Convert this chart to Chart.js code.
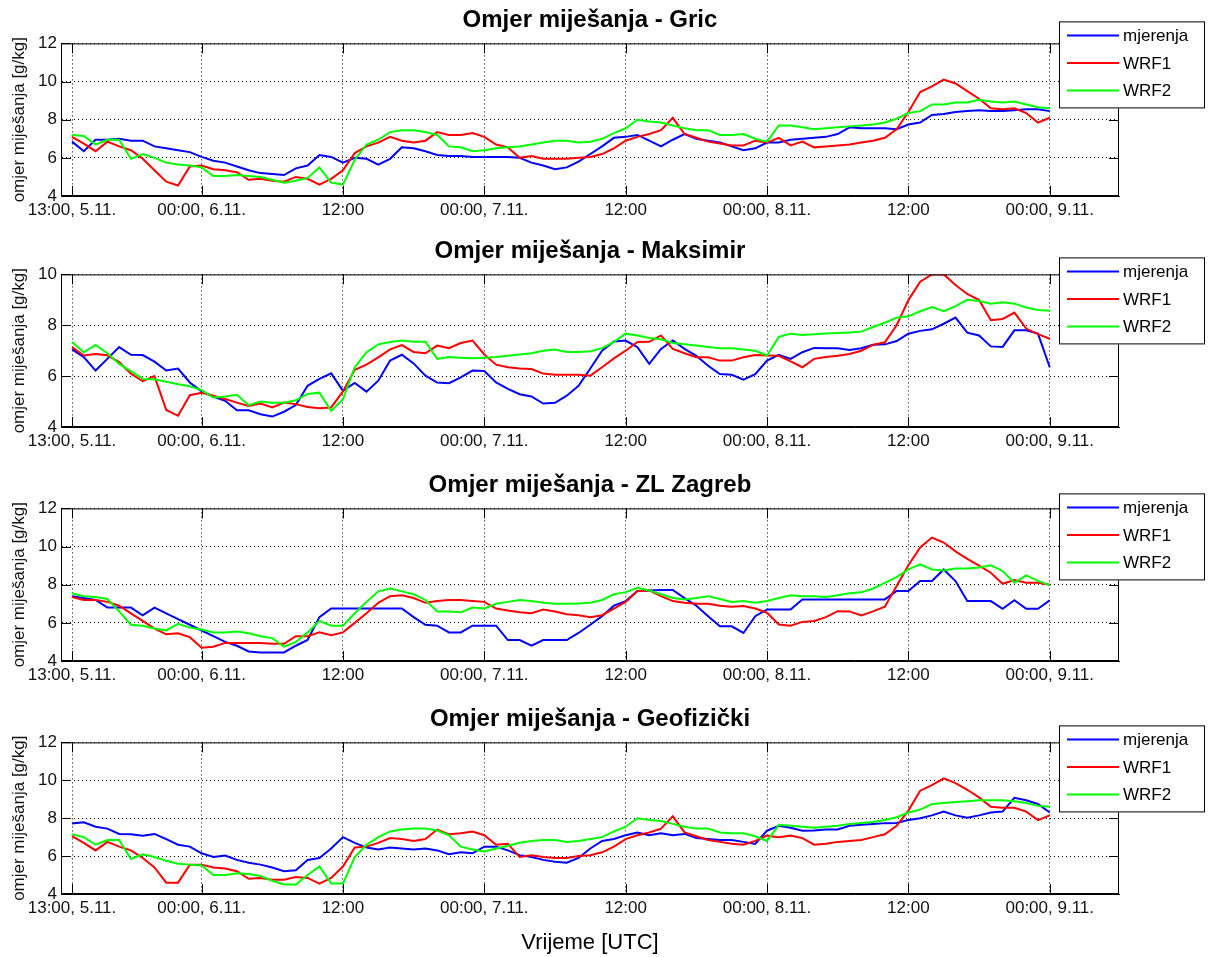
<!DOCTYPE html>
<html>
<head>
<meta charset="utf-8">
<title>Omjer miješanja</title>
<script src="https://cdn.jsdelivr.net/npm/chart.js@4.4.0/dist/chart.umd.min.js"></script>
<style>
  body { margin: 0; background: #fff; }
  #wrap { position: relative; width: 1208px; height: 957px; }
  #wrap canvas { position: absolute; left: 0; }
</style>
</head>
<body>
<div id="wrap">
  <canvas id="c0" width="1208" height="231" style="top:0px"></canvas>
  <canvas id="c1" width="1208" height="231" style="top:231px"></canvas>
  <canvas id="c2" width="1208" height="231" style="top:465px"></canvas>
  <canvas id="c3" width="1208" height="258" style="top:699px"></canvas>
</div>
<script>
// hourly values from 13:00 5.11. to 00:00 9.11.
const hours = Array.from({ length: 84 }, (_, i) => i);
const tickHours = [0, 11, 23, 35, 47, 59, 71, 83];
const tickLabels = ["13:00, 5.11.", "00:00, 6.11.", "12:00", "00:00, 7.11.", "12:00", "00:00, 8.11.", "12:00", "00:00, 9.11."];
const seriesNames = ["mjerenja", "WRF1", "WRF2"];

// Gric
const gricMjer = [
  6.85, 6.35, 6.95, 6.95, 7.0, 6.9, 6.9, 6.6, 6.5, 6.4, 6.3, 6.05,
  5.85, 5.75, 5.55, 5.35, 5.2, 5.15, 5.1, 5.45, 5.6, 6.15, 6.05, 5.75,
  6.0, 5.95, 5.65, 5.95, 6.55, 6.5, 6.35, 6.15, 6.1, 6.1, 6.05, 6.05,
  6.05, 6.05, 6.0, 5.75, 5.6, 5.4, 5.5, 5.8, 6.2, 6.6, 7.05, 7.1,
  7.2, 6.9, 6.6, 6.95, 7.25, 7.0, 6.9, 6.8, 6.6, 6.4, 6.5, 6.8,
  6.8, 6.95, 7.0, 7.05, 7.1, 7.25, 7.6, 7.55, 7.55, 7.55, 7.5, 7.75,
  7.85, 8.25, 8.3, 8.4, 8.45, 8.5, 8.45, 8.45, 8.5, 8.55, 8.55, 8.45
];
const gricWrf1 = [
  7.1, 6.75, 6.35, 6.85, 6.6, 6.4, 5.95, 5.35, 4.75, 4.55, 5.55, 5.6,
  5.4, 5.35, 5.25, 4.85, 4.9, 4.8, 4.75, 5.0, 4.9, 4.6, 4.9, 5.35,
  6.25, 6.6, 6.8, 7.1, 6.9, 6.8, 6.9, 7.35, 7.2, 7.2, 7.3, 7.1,
  6.7, 6.55, 6.0, 6.1, 5.95, 5.95, 5.95, 6.0, 6.05, 6.2, 6.5, 6.9,
  7.1, 7.25, 7.45, 8.1, 7.25, 7.05, 6.85, 6.75, 6.65, 6.65, 6.9, 6.8,
  7.05, 6.65, 6.85, 6.55, 6.6, 6.65, 6.7, 6.8, 6.9, 7.05, 7.5, 8.4,
  9.45, 9.75, 10.1, 9.9, 9.5, 9.1, 8.6, 8.55, 8.6, 8.35, 7.85, 8.1
];
const gricWrf2 = [
  7.2, 7.15, 6.7, 6.95, 6.95, 5.95, 6.2, 6.0, 5.75, 5.65, 5.6, 5.5,
  5.05, 5.05, 5.1, 5.05, 5.0, 4.85, 4.7, 4.8, 4.95, 5.5, 4.7, 4.6,
  5.9, 6.7, 6.95, 7.35, 7.45, 7.45, 7.35, 7.2, 6.6, 6.55, 6.35, 6.4,
  6.5, 6.55, 6.6, 6.7, 6.8, 6.9, 6.9, 6.8, 6.85, 7.0, 7.3, 7.55,
  8.0, 7.9, 7.85, 7.7, 7.55, 7.45, 7.45, 7.2, 7.2, 7.25, 7.0, 6.85,
  7.7, 7.7, 7.6, 7.5, 7.55, 7.6, 7.65, 7.7, 7.75, 7.85, 8.05, 8.35,
  8.45, 8.8, 8.8, 8.9, 8.9, 9.05, 8.95, 8.9, 8.95, 8.8, 8.65, 8.6
];

// Maksimir
const maksMjer = [
  7.05, 6.75, 6.22, 6.68, 7.14, 6.84, 6.83, 6.57, 6.22, 6.3, 5.75, 5.4,
  5.2, 5.03, 4.66, 4.66, 4.5, 4.41, 4.6, 4.86, 5.62, 5.89, 6.11, 5.42,
  5.73, 5.39, 5.82, 6.61, 6.84, 6.5, 6.02, 5.75, 5.72, 5.95, 6.22, 6.2,
  5.75, 5.5, 5.29, 5.2, 4.92, 4.95, 5.23, 5.62, 6.3, 7.0, 7.36, 7.4,
  7.14, 6.48, 7.07, 7.4, 7.07, 6.8, 6.41, 6.08, 6.05, 5.86, 6.08, 6.61,
  6.84, 6.68, 6.94, 7.11, 7.1, 7.1, 7.03, 7.1, 7.23, 7.25, 7.38, 7.67,
  7.78, 7.84, 8.06, 8.3, 7.71, 7.6, 7.17, 7.15, 7.8, 7.8, 7.67, 6.35
];
const maksWrf1 = [
  7.14, 6.81, 6.87, 6.82, 6.55, 6.1, 5.8, 6.0, 4.67, 4.44, 5.25, 5.35,
  5.23, 5.1, 4.96, 4.83, 4.92, 4.77, 4.96, 4.9, 4.79, 4.74, 4.77, 5.4,
  6.25, 6.45, 6.74, 7.05, 7.22, 6.95, 6.9, 7.2, 7.1, 7.3, 7.4, 6.85,
  6.45, 6.35, 6.3, 6.28, 6.1, 6.05, 6.05, 6.05, 6.02, 6.35, 6.7, 7.0,
  7.34, 7.35, 7.6, 7.07, 6.9, 6.74, 6.74, 6.61, 6.61, 6.74, 6.83, 6.81,
  6.8, 6.58, 6.35, 6.68, 6.75, 6.8, 6.87, 7.0, 7.23, 7.33, 8.0, 8.99,
  9.71, 10.0, 10.0, 9.58, 9.23, 8.99, 8.2, 8.25, 8.5, 7.87, 7.65, 7.47
];
const maksWrf2 = [
  7.34, 6.94, 7.23, 6.9, 6.48, 6.2, 5.89, 5.88, 5.78, 5.68, 5.6, 5.45,
  5.16, 5.2, 5.27, 4.86, 5.0, 4.95, 4.95, 5.05, 5.3, 5.35, 4.63, 5.09,
  6.35, 6.94, 7.25, 7.34, 7.4, 7.35, 7.35, 6.68, 6.75, 6.72, 6.7, 6.72,
  6.75, 6.8, 6.85, 6.9, 7.0, 7.05, 6.95, 6.95, 6.98, 7.1, 7.35, 7.67,
  7.6, 7.5, 7.45, 7.3, 7.25, 7.2, 7.15, 7.1, 7.1, 7.05, 7.0, 6.81,
  7.54, 7.67, 7.62, 7.65, 7.68, 7.7, 7.72, 7.75, 7.93, 8.1, 8.3, 8.35,
  8.55, 8.72, 8.55, 8.75, 9.0, 8.95, 8.85, 8.9, 8.85, 8.7, 8.6, 8.57
];

// ZL Zagreb
const zlMjer = [
  7.4, 7.3, 7.2, 6.8, 6.8, 6.8, 6.4, 6.8, 6.5, 6.2, 5.9, 5.6,
  5.3, 5.0, 4.8, 4.5, 4.45, 4.45, 4.45, 4.8, 5.1, 6.3, 6.75, 6.75,
  6.75, 6.75, 6.75, 6.75, 6.75, 6.3, 5.9, 5.85, 5.5, 5.5, 5.85, 5.85,
  5.85, 5.1, 5.1, 4.8, 5.1, 5.1, 5.1, 5.47, 5.9, 6.35, 6.9, 7.14,
  7.67, 7.7, 7.72, 7.72, 7.3, 6.9, 6.35, 5.82, 5.82, 5.47, 6.35, 6.7,
  6.7, 6.7, 7.23, 7.23, 7.23, 7.23, 7.23, 7.23, 7.23, 7.23, 7.67, 7.67,
  8.19, 8.19, 8.8, 8.19, 7.14, 7.14, 7.14, 6.74, 7.19, 6.74, 6.74, 7.18
];
const zlWrf1 = [
  7.35, 7.2, 7.2, 7.1, 6.9, 6.5, 6.1, 5.7, 5.4, 5.45, 5.25, 4.7,
  4.75, 4.95, 4.95, 4.95, 4.95, 4.9, 4.9, 5.3, 5.3, 5.5, 5.35, 5.5,
  6.0, 6.5, 7.05, 7.4, 7.45, 7.3, 7.05, 7.15, 7.2, 7.2, 7.15, 7.1,
  6.75, 6.65, 6.55, 6.5, 6.7, 6.6, 6.45, 6.4, 6.3, 6.4, 6.75, 7.1,
  7.67, 7.7, 7.4, 7.14, 7.05, 7.0, 7.0, 6.9, 6.85, 6.88, 6.75, 6.53,
  5.91, 5.85, 6.05, 6.1, 6.3, 6.61, 6.6, 6.39, 6.6, 6.85, 7.93, 9.02,
  9.95, 10.47, 10.21, 9.75, 9.35, 9.0, 8.63, 8.05, 8.25, 8.1, 8.1, 8.0
];
const zlWrf2 = [
  7.55, 7.4, 7.35, 7.25, 6.6, 5.9, 5.85, 5.7, 5.6, 5.95, 5.75, 5.65,
  5.5, 5.5, 5.55, 5.45, 5.3, 5.2, 4.75, 5.0, 5.5, 6.1, 5.85, 5.85,
  6.5, 7.1, 7.65, 7.8, 7.65, 7.5, 7.2, 6.6, 6.6, 6.55, 6.8, 6.75,
  7.0, 7.1, 7.2, 7.15, 7.05, 7.0, 7.0, 7.02, 7.05, 7.2, 7.5, 7.61,
  7.84, 7.7, 7.5, 7.3, 7.23, 7.3, 7.4, 7.25, 7.09, 7.15, 7.05, 7.15,
  7.3, 7.45, 7.4, 7.4, 7.35, 7.45, 7.55, 7.6, 7.8, 8.1, 8.4, 8.8,
  9.07, 8.8, 8.75, 8.85, 8.85, 8.9, 9.02, 8.72, 8.1, 8.49, 8.2, 7.98
];

// Geofizički
const geoMjer = [
  7.72, 7.78, 7.55, 7.45, 7.17, 7.15, 7.08, 7.17, 6.9, 6.6, 6.5, 6.15,
  5.95, 6.03, 5.8, 5.65, 5.55, 5.4, 5.2, 5.25, 5.8, 5.9, 6.4, 7.0,
  6.7, 6.45, 6.35, 6.45, 6.4, 6.35, 6.4, 6.3, 6.1, 6.2, 6.15, 6.5,
  6.5, 6.3, 6.05, 5.95, 5.8, 5.7, 5.65, 5.9, 6.4, 6.8, 6.9, 7.1,
  7.25, 7.1, 7.2, 7.1, 7.17, 6.95, 6.9, 6.85, 6.85, 6.75, 6.64, 7.34,
  7.6, 7.5, 7.34, 7.35, 7.4, 7.4, 7.6, 7.65, 7.7, 7.74, 7.75, 7.9,
  8.0, 8.15, 8.35, 8.15, 8.03, 8.15, 8.3, 8.35, 9.08, 8.95, 8.75, 8.3
];
const geoWrf1 = [
  7.05, 6.7, 6.3, 6.75, 6.5, 6.3, 5.9, 5.4, 4.6, 4.6, 5.55, 5.55,
  5.4, 5.35, 5.2, 4.8, 4.85, 4.75, 4.75, 4.9, 4.85, 4.55, 4.85, 5.45,
  6.45, 6.5, 6.7, 6.95, 6.9, 6.8, 6.9, 7.4, 7.15, 7.2, 7.3, 7.1,
  6.6, 6.65, 5.95, 6.05, 5.95, 5.9, 5.9, 6.0, 6.05, 6.2, 6.5, 6.9,
  7.1, 7.25, 7.45, 8.1, 7.25, 7.05, 6.85, 6.75, 6.65, 6.6, 6.8, 7.08,
  7.0, 7.08, 6.95, 6.6, 6.65, 6.75, 6.8, 6.85, 7.0, 7.15, 7.6, 8.4,
  9.45, 9.75, 10.1, 9.85, 9.5, 9.1, 8.6, 8.55, 8.55, 8.35, 7.9, 8.15
];
const geoWrf2 = [
  7.15, 7.0, 6.6, 6.85, 6.85, 5.85, 6.1, 5.95, 5.75, 5.6, 5.55, 5.5,
  5.0, 5.0, 5.1, 5.05, 4.95, 4.7, 4.5, 4.5, 5.0, 5.45, 4.55, 4.55,
  5.95, 6.6, 7.0, 7.3, 7.4, 7.45, 7.45, 7.35, 7.1, 6.5, 6.35, 6.25,
  6.4, 6.55, 6.7, 6.8, 6.85, 6.85, 6.75, 6.8, 6.9, 7.0, 7.3, 7.55,
  8.0, 7.9, 7.85, 7.7, 7.55, 7.45, 7.45, 7.25, 7.2, 7.2, 7.05, 6.8,
  7.65, 7.6, 7.55, 7.5, 7.55, 7.6, 7.7, 7.75, 7.8, 7.9, 8.05, 8.3,
  8.45, 8.75, 8.8, 8.85, 8.9, 8.95, 8.95, 8.95, 8.9, 8.8, 8.65, 8.6
];

const FONT = '"Liberation Sans", Arial, sans-serif';
const colors = ["#0000ff", "#ff0000", "#00ff00"];

const panels = [
  { id: "c0", title: "Omjer miješanja - Gric", series: [gricMjer, gricWrf1, gricWrf2], yMax: 12, legendTop: -22, last: false },
  { id: "c1", title: "Omjer miješanja - Maksimir", series: [maksMjer, maksWrf1, maksWrf2], yMax: 10, legendTop: -17, last: false },
  { id: "c2", title: "Omjer miješanja - ZL Zagreb", series: [zlMjer, zlWrf1, zlWrf2], yMax: 12, legendTop: -15, last: false },
  { id: "c3", title: "Omjer miješanja - Geofizički", series: [geoMjer, geoWrf1, geoWrf2], yMax: 12, legendTop: -17, last: true }
];

// box round the axes, inward ticks and the legend, drawn the MATLAB way
const matlabBox = {
  id: "matlabBox",
  afterDraw(chart, args, opts) {
    const { ctx, chartArea: a, scales: { x, y } } = chart;
    ctx.save();
    ctx.strokeStyle = "#000";
    ctx.lineWidth = 1;
    ctx.strokeRect(a.left + 0.5, a.top + 0.5, a.right - a.left - 1, a.bottom - a.top - 1);
    ctx.beginPath();
    x.ticks.forEach(t => {
      const px = Math.round(x.getPixelForValue(t.value)) + 0.5;
      ctx.moveTo(px, a.bottom); ctx.lineTo(px, a.bottom - 10);
      ctx.moveTo(px, a.top); ctx.lineTo(px, a.top + 10);
    });
    y.ticks.forEach(t => {
      const py = Math.round(y.getPixelForValue(t.value)) + 0.5;
      ctx.moveTo(a.left, py); ctx.lineTo(a.left + 10, py);
      ctx.moveTo(a.right, py); ctx.lineTo(a.right - 10, py);
    });
    ctx.stroke();

    // legend
    const bx = a.right - 60, by = a.top + opts.top, bw = 146, bh = 87;
    ctx.fillStyle = "#fff";
    ctx.fillRect(bx, by, bw, bh);
    ctx.strokeStyle = "#000";
    ctx.strokeRect(bx + 0.5, by + 0.5, bw - 1, bh - 1);
    ctx.font = "17px " + FONT;
    ctx.textBaseline = "middle";
    ctx.textAlign = "left";
    chart.data.datasets.forEach((ds, i) => {
      const ly = by + 14 + i * 27.5;
      ctx.strokeStyle = ds.borderColor;
      ctx.lineWidth = 2;
      ctx.beginPath();
      ctx.moveTo(bx + 8, ly); ctx.lineTo(bx + 60, ly);
      ctx.stroke();
      ctx.fillStyle = "#000";
      ctx.fillText(ds.label, bx + 64, ly + 1);
    });
    ctx.restore();
  }
};

panels.forEach(p => {
  const ctx = document.getElementById(p.id).getContext("2d");
  const xAxisHeight = p.last ? 63 : 35;
  new Chart(ctx, {
    type: "line",
    data: {
      datasets: p.series.map((vals, k) => ({
        label: seriesNames[k],
        data: vals.map((v, i) => ({ x: hours[i], y: v })),
        borderColor: colors[k],
        backgroundColor: colors[k],
        borderWidth: 2,
        pointRadius: 0,
        tension: 0,
        fill: false,
        order: 2 - k
      }))
    },
    options: {
      responsive: false,
      animation: false,
      devicePixelRatio: 1,
      layout: { padding: { left: 0, right: 89, top: 0, bottom: 0 } },
      plugins: {
        legend: { display: false },
        tooltip: { enabled: false },
        title: {
          display: true,
          text: p.title,
          fullSize: false,
          color: "#000",
          font: { family: FONT, size: 24, weight: "bold" },
          padding: { top: 6, bottom: 8.6 }
        },
        matlabBox: { top: p.legendTop }
      },
      scales: {
        x: {
          type: "linear",
          min: -0.934,
          max: 88.88,
          afterBuildTicks: scale => { scale.ticks = tickHours.map(v => ({ value: v })); },
          afterFit: scale => { scale.height = xAxisHeight; },
          ticks: {
            autoSkip: false,
            maxRotation: 0,
            minRotation: 0,
            padding: 4,
            color: "#111",
            font: { family: FONT, size: 17 },
            callback: (v, i) => tickLabels[i]
          },
          grid: { color: "#000", lineWidth: 1, drawTicks: false },
          border: { display: true, color: "#000", width: 1, dash: [1, 3] },
          title: {
            display: p.last,
            text: "Vrijeme [UTC]",
            color: "#000",
            font: { family: FONT, size: 22 },
            padding: { top: 0, bottom: 1 }
          }
        },
        y: {
          min: 4,
          max: p.yMax,
          afterFit: scale => { scale.width = 61; },
          ticks: {
            stepSize: 2,
            padding: 4,
            color: "#111",
            font: { family: FONT, size: 17 }
          },
          grid: { color: "#000", lineWidth: 1, drawTicks: false },
          border: { display: true, color: "#000", width: 1, dash: [1, 3] },
          title: {
            display: true,
            text: "omjer miješanja [g/kg]",
            color: "#111",
            font: { family: FONT, size: 17 },
            padding: { top: 9, bottom: 0 }
          }
        }
      }
    },
    plugins: [matlabBox]
  });
});
</script>
</body>
</html>
